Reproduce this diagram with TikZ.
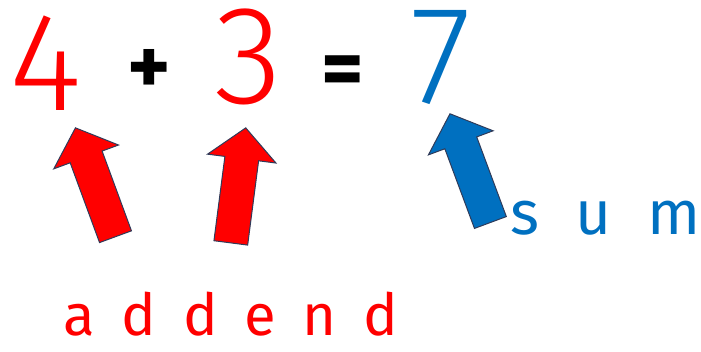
\documentclass[tikz,border=0pt]{standalone}
\usepackage{fontspec}
\setmainfont{Fira Sans}
\newfontfamily\thinfont{Fira Sans}[UprightFont=* Light]
\definecolor{addred}{HTML}{FF0000}
\definecolor{sumblue}{HTML}{0070C0}
\definecolor{edge}{HTML}{2F3B5A}

\begin{document}
\begin{tikzpicture}[x=1pt,y=1pt,
    digit/.style={inner sep=0pt,font=\thinfont\fontsize{140}{140}\selectfont},
    sign/.style={inner sep=0pt,font=\bfseries\fontsize{82}{82}\selectfont},
    word/.style 2 args={inner sep=0pt,anchor=base,font=\fontsize{#1}{#1}\selectfont\addfontfeature{LetterSpace=#2}},
    pics/blockarrow/.style={code={
      \draw[fill=#1,draw=edge,line width=1pt,line join=miter]
        (-17,0) -- (-17,85) -- (-34.5,85) -- (0,116) -- (34.5,85) -- (17,85) -- (17,0) -- cycle;}}]
  \useasboundingbox (0,0) rectangle (701,-352);
  % the sum
  \node[digit,text=addred] (four) at (46,-63) {4};
  \node[sign] (plus) at (149,-72) {+};
  \node[digit,text=addred] (three) at (249,-57) {3};
  \node[sign] (equals) at (343,-76) {=};
  \node[digit,text=sumblue] (seven) at (441,-58) {7};
  % block arrows, tail up to the number
  \coordinate (tailfour) at (115.5,-236.7);
  \coordinate (tailthree) at (230.8,-242.9);
  \coordinate (tailseven) at (490.4,-222.5);
  \pic[rotate=20.2] at (tailfour) {blockarrow=addred};
  \pic[rotate=-7.4] at (tailthree) {blockarrow=addred};
  \pic[rotate=20.4] at (tailseven) {blockarrow=sumblue};
  % labels
  \node[word={58}{46},text=addred] (addend) at (231,-336) {addend};
  \node[word={62}{58},text=sumblue] (sum) at (606,-235) {sum};
\end{tikzpicture}
\end{document}
